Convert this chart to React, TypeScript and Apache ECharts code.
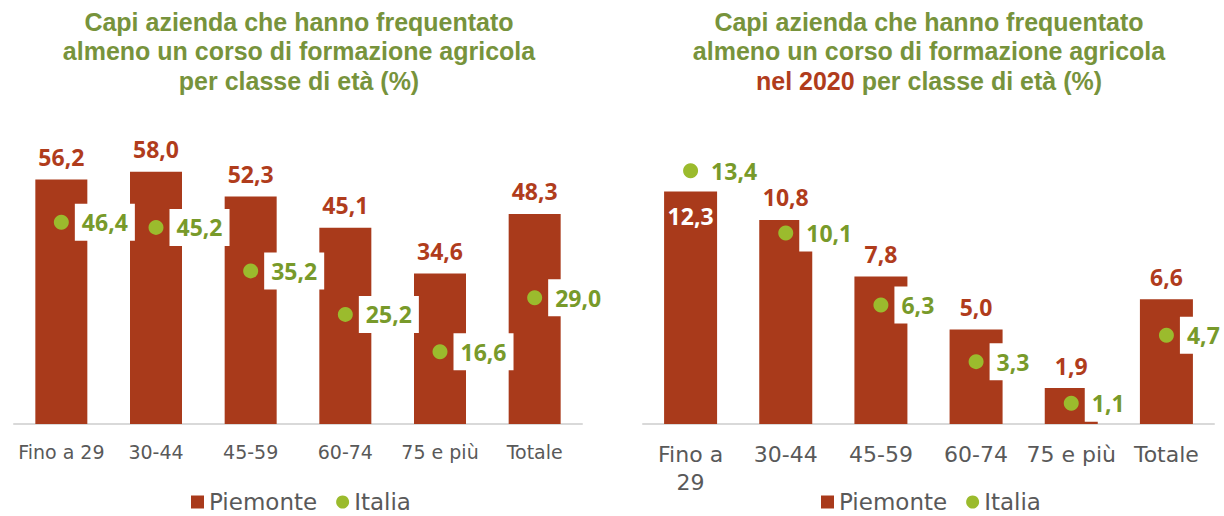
import React, { useEffect, useRef } from "react";
import * as echarts from "echarts";

const categories = ["Fino a 29", "30-44", "45-59", "60-74", "75 e più", "Totale"];
const piemonteTotal = [56.2, 58.0, 52.3, 45.1, 34.6, 48.3];
const italiaTotal = [46.4, 45.2, 35.2, 25.2, 16.6, 29.0];
const piemonte2020 = [12.3, 10.8, 7.8, 5.0, 1.9, 6.6];
const italia2020 = [13.4, 10.1, 6.3, 3.3, 1.1, 4.7];

const titleLeft = "Capi azienda che hanno frequentato\nalmeno un corso di formazione agricola\nper classe di età (%)";
const titleRight = "Capi azienda che hanno frequentato\nalmeno un corso di formazione agricola\n{r|nel 2020} per classe di età (%)";

const FONT = "Noto Sans";
const TFONT = "Liberation Sans";
const AFONT = "DejaVu Sans";
const BAR = "#A93A1B";
const BAR_LABEL = "#B03C1C";
const DOT = "#9BBB2D";
const DOT_LABEL = "#789A2A";
const TITLE = "#77933C";
const GREY = "#595959";

const fmt = (p: any) => Number(p.value).toFixed(1).replace(".", ",");

export default function App() {
  const ref = useRef<HTMLDivElement>(null);
  useEffect(() => {
    if (!ref.current) return;
    const chart = echarts.init(ref.current, undefined, { renderer: "svg" });
    const titleStyle = {
      fontFamily: TFONT,
      fontSize: 25,
      fontWeight: "bold" as const,
      color: TITLE,
      lineHeight: 29.5,
      rich: {
        r: { color: "#B03C1C", fontFamily: TFONT, fontSize: 25, fontWeight: "bold" as const, lineHeight: 29.5 },
      },
    };
    const barLabel = {
      show: true,
      position: "top" as const,
      distance: 11,
      formatter: fmt,
      color: BAR_LABEL,
      fontFamily: FONT,
      fontSize: 23,
      fontWeight: "bold" as const,
      lineHeight: 23,
    };
    const dotLabel = {
      show: true,
      position: "right" as const,
      distance: 6,
      formatter: fmt,
      color: DOT_LABEL,
      fontFamily: FONT,
      fontSize: 23,
      fontWeight: "bold" as const,
      lineHeight: 23,
      opacity: 1,
      backgroundColor: "#ffffff",
      padding: [7, 7, 7, 7],
    };
    const xAxisBase = {
      type: "category" as const,
      data: categories,
      axisLine: { lineStyle: { color: "#D9D9D9", width: 2 } },
      axisTick: { show: false },
    };
    const legendBase = {
      top: 489,
      padding: 0,
      itemWidth: 13,
      itemHeight: 13,
      itemGap: 19,
      textStyle: { fontFamily: AFONT, fontSize: 23, color: GREY, lineHeight: 26 },
      data: [
        { name: "Piemonte", icon: "rect" },
        { name: "Italia", icon: "circle" },
      ],
    };
    chart.setOption({
      animation: false,
      title: [
        { text: titleLeft, left: 299, top: 7, padding: 0, textAlign: "center", textStyle: titleStyle },
        { text: titleRight, left: 929, top: 7, padding: 0, textAlign: "center", textStyle: titleStyle },
      ],
      legend: [
        { ...legendBase, left: 191 },
        { ...legendBase, left: 821 },
      ],
      grid: [
        { left: 14, width: 568, top: 163, bottom: 92 },
        { left: 643, width: 571, top: 159.4, bottom: 92 },
      ],
      xAxis: [
        {
          ...xAxisBase,
          gridIndex: 0,
          axisLabel: { fontFamily: AFONT, fontSize: 19, color: GREY, margin: 17, lineHeight: 22, interval: 0 },
        },
        {
          ...xAxisBase,
          gridIndex: 1,
          axisLabel: {
            fontFamily: AFONT,
            fontSize: 22,
            color: GREY,
            margin: 16,
            lineHeight: 28,
            interval: 0,
            formatter: (v: string) => (v === "Fino a 29" ? "Fino a\n29" : v),
          },
        },
      ],
      yAxis: [
        { type: "value", gridIndex: 0, min: 0, max: 60, show: false, splitLine: { show: false } },
        { type: "value", gridIndex: 1, min: 0, max: 14, show: false, splitLine: { show: false } },
      ],
      series: [
        {
          name: "Piemonte",
          type: "bar",
          xAxisIndex: 0,
          yAxisIndex: 0,
          barWidth: 52,
          itemStyle: { color: BAR },
          label: barLabel,
          data: piemonteTotal,
          z: 2,
        },
        {
          name: "Italia",
          type: "scatter",
          xAxisIndex: 0,
          yAxisIndex: 0,
          symbol: "circle",
          symbolSize: 15,
          itemStyle: { color: DOT, opacity: 1 },
          label: dotLabel,
          data: italiaTotal,
          z: 3,
        },
        {
          name: "Piemonte",
          type: "bar",
          xAxisIndex: 1,
          yAxisIndex: 1,
          barWidth: 53,
          itemStyle: { color: BAR },
          label: barLabel,
          data: piemonte2020.map((v, i) =>
            i === 0
              ? { value: v, label: { position: "insideTop", distance: 13, color: "#ffffff" } }
              : v
          ),
          z: 2,
        },
        {
          name: "Italia",
          type: "scatter",
          xAxisIndex: 1,
          yAxisIndex: 1,
          symbol: "circle",
          symbolSize: 15,
          itemStyle: { color: DOT, opacity: 1 },
          label: dotLabel,
          data: italia2020,
          z: 3,
        },
      ],
    });
    return () => chart.dispose();
  }, []);
  return (
    <div
      ref={ref}
      style={{ position: "fixed", left: 0, top: 0, width: 1224, height: 516, background: "#ffffff" }}
    />
  );
}
